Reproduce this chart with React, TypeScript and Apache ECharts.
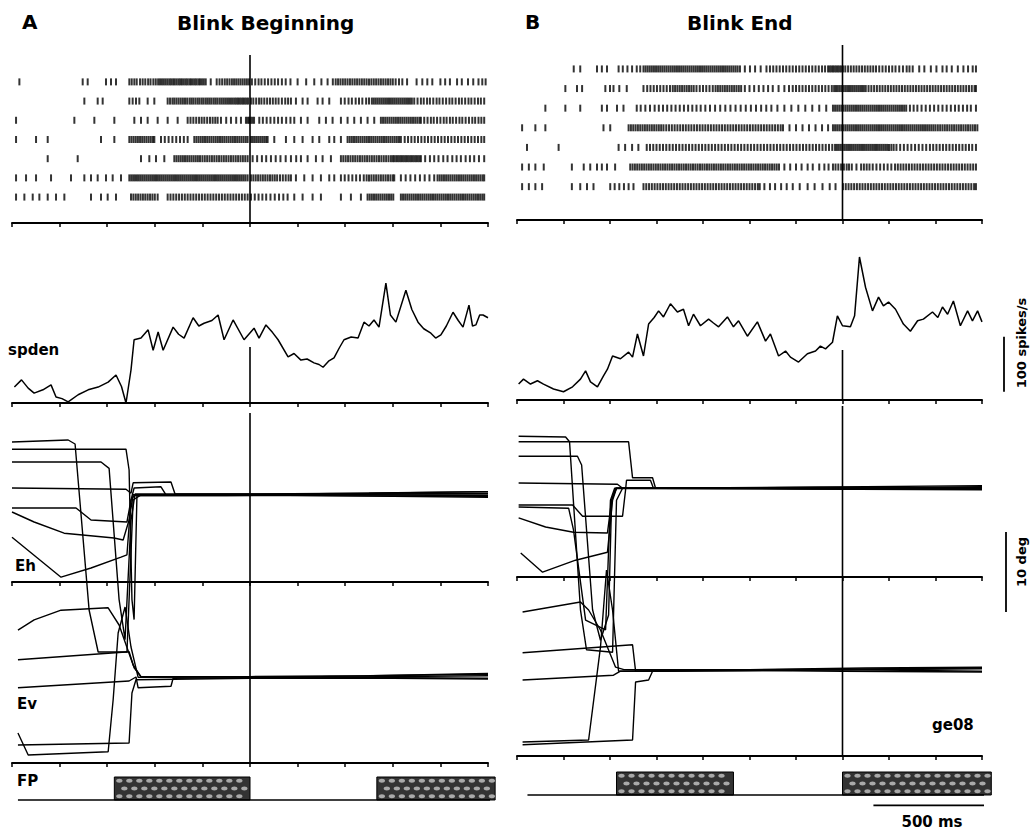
import React, { useEffect, useRef } from "react";
import * as echarts from "echarts";

// ---------- time windows (ms relative to the blink event) ----------
const TIME_A: [number, number] = [-1000, 1000];
const TIME_B: [number, number] = [-1400, 600];
const TICK_MS = 200;

// ---------- spike rasters: spike times (ms), one array per trial ----------
const rasterA: number[][] = [
  [-969,-703,-682,-605,-584,-563,-507,-497,-486,-476,-462,-451,-440,-428,-418,-406,-396,-386,-378,-370,-362,-354,-346,-338,-331,-323,-316,-308,-300,-293,-286,-278,-270,-263,-255,-248,-240,-232,-225,-217,-210,-202,-194,-186,-165,-140,-128,-117,-106,-96,-86,-76,-67,-58,-49,-40,-31,-22,-13,-4,8,22,36,48,62,76,90,104,118,134,150,170,200,236,270,300,326,348,360,370,380,390,400,410,420,430,440,450,460,470,480,490,500,510,520,530,540,550,560,570,580,590,600,612,626,640,660,700,724,745,766,800,820,840,870,890,916,938,960,976,990],
  [-696,-640,-619,-507,-493,-479,-465,-430,-402,-346,-336,-326,-318,-309,-300,-291,-282,-273,-264,-254,-246,-238,-229,-220,-212,-203,-195,-186,-178,-170,-162,-153,-145,-137,-128,-120,-112,-104,-96,-88,-80,-72,-64,-57,-50,-43,-36,-29,-22,-15,-8,4,14,26,38,48,60,72,84,96,108,120,134,148,160,172,193,221,242,284,305,333,382,398,414,428,444,458,472,488,500,512,520,528,536,544,552,560,568,576,584,592,600,608,616,624,632,640,648,656,664,672,680,690,704,718,730,744,756,770,784,796,810,824,838,850,864,878,890,904,918,930,944,958,970,984],
  [-983,-738,-654,-570,-486,-458,-430,-388,-346,-304,-262,-250,-238,-226,-214,-203,-192,-180,-168,-157,-146,-136,-122,-100,-80,-58,-38,-17,-10,-4,3,10,17,39,54,70,86,102,118,134,152,170,186,214,242,291,319,347,382,410,438,466,494,522,550,559,568,577,586,595,604,613,622,631,640,649,658,667,676,685,694,703,712,718,732,746,760,772,786,800,814,826,840,852,866,880,892,906,920,934,946,960,972,984],
  [-983,-899,-850,-626,-570,-507,-498,-489,-480,-471,-462,-453,-444,-435,-426,-417,-408,-402,-374,-358,-342,-326,-310,-294,-278,-262,-234,-225,-216,-207,-198,-189,-180,-171,-162,-153,-144,-135,-126,-117,-108,-99,-90,-81,-72,-63,-54,-45,-36,-27,-18,-10,4,12,20,28,36,44,52,60,68,74,102,151,186,221,263,291,333,354,382,410,419,428,437,446,455,464,473,482,491,500,509,518,527,536,545,554,563,572,581,590,599,608,617,626,634,650,664,678,692,706,720,734,748,762,776,790,804,818,832,846,860,874,888,902,916,930,944,958,972,984],
  [-850,-724,-458,-423,-395,-360,-318,-309,-300,-291,-282,-273,-264,-255,-246,-237,-228,-219,-210,-200,-190,-180,-170,-160,-150,-140,-130,-120,-110,-100,-90,-80,-70,-60,-50,-40,-30,-20,-10,11,30,50,68,88,108,128,150,172,194,214,242,277,305,340,382,392,402,412,422,432,442,452,462,472,482,492,502,512,522,532,542,552,562,572,582,592,600,606,614,621,628,635,642,649,656,663,670,677,684,691,698,705,712,718,736,756,774,792,812,830,850,868,886,906,924,942,962,984],
  [-983,-941,-899,-836,-752,-696,-668,-640,-605,-577,-542,-507,-499,-491,-483,-475,-467,-459,-451,-443,-435,-427,-419,-411,-403,-395,-387,-379,-371,-363,-355,-347,-339,-331,-323,-315,-307,-299,-291,-283,-275,-267,-259,-251,-243,-235,-227,-219,-211,-203,-195,-187,-179,-171,-163,-155,-147,-139,-131,-123,-115,-107,-99,-91,-83,-75,-67,-59,-51,-43,-35,-27,-19,-10,4,14,24,34,44,54,64,74,84,94,104,114,126,138,150,162,172,193,228,263,298,333,354,382,398,414,430,446,462,478,490,500,510,520,530,540,550,560,570,580,590,600,606,634,654,674,694,714,734,754,774,788,797,806,815,824,833,842,851,860,869,878,887,896,905,914,923,932,941,950,959,968,977,984],
  [-983,-948,-913,-885,-850,-815,-780,-668,-626,-598,-563,-500,-490,-480,-470,-460,-450,-440,-430,-420,-410,-400,-388,-346,-334,-322,-310,-298,-286,-274,-262,-250,-238,-226,-214,-202,-190,-178,-166,-154,-142,-130,-118,-106,-94,-82,-70,-58,-46,-34,-22,-10,4,20,36,52,68,86,104,122,140,158,186,221,263,298,382,424,466,494,503,512,521,530,539,548,557,566,575,584,593,602,634,643,652,661,670,679,688,697,706,715,724,733,742,751,760,769,778,787,796,805,814,823,832,841,850,859,868,877,886,895,904,913,922,931,940,949,958,967,976,984],
];

const rasterB: number[][] = [
  [-1156,-1128,-1056,-1035,-1013,-963,-945,-925,-905,-885,-870,-856,-847,-838,-829,-820,-811,-802,-793,-784,-775,-766,-757,-748,-739,-730,-721,-712,-703,-694,-685,-676,-667,-658,-649,-640,-631,-622,-613,-604,-595,-586,-577,-568,-559,-550,-541,-532,-523,-514,-505,-496,-487,-478,-469,-460,-451,-441,-420,-398,-376,-352,-327,-312,-298,-284,-270,-256,-242,-228,-214,-200,-186,-172,-158,-144,-130,-116,-102,-88,-75,-62,-55,-48,-41,-34,-27,-20,-13,-6,2,12,24,36,48,60,72,84,96,108,120,132,144,158,172,186,200,214,228,244,260,276,288,302,330,352,380,404,430,448,470,496,520,540,560,574],
  [-1192,-1142,-1120,-1020,-1000,-985,-960,-928,-856,-840,-826,-812,-798,-784,-770,-756,-742,-730,-720,-710,-700,-690,-680,-670,-660,-650,-640,-628,-614,-600,-586,-572,-558,-546,-536,-526,-516,-506,-496,-486,-476,-466,-456,-446,-436,-420,-400,-380,-360,-340,-320,-300,-275,-250,-230,-214,-200,-186,-172,-158,-144,-130,-116,-102,-88,-74,-60,-46,-36,-28,-20,-12,-4,4,12,20,28,36,44,52,60,68,76,84,92,100,112,124,136,148,160,172,184,196,208,220,232,244,256,268,280,292,304,316,328,340,352,364,376,388,400,412,424,436,448,460,472,484,496,508,520,532,544,556,568,574],
  [-1278,-1192,-1128,-1035,-1013,-970,-942,-885,-868,-848,-828,-808,-790,-772,-754,-736,-718,-700,-682,-664,-646,-628,-610,-590,-570,-548,-526,-504,-482,-460,-438,-416,-394,-372,-350,-328,-306,-280,-250,-220,-190,-160,-130,-100,-70,-41,-32,-23,-14,-5,4,13,22,31,40,49,58,67,76,85,94,103,112,121,130,139,148,157,166,175,184,193,202,211,220,229,238,247,256,265,274,290,306,322,340,358,376,394,412,430,448,466,484,500,518,536,552,574],
  [-1378,-1321,-1278,-1028,-999,-920,-910,-900,-890,-880,-870,-860,-850,-840,-830,-820,-810,-800,-790,-780,-770,-758,-746,-734,-722,-710,-698,-686,-674,-662,-650,-638,-626,-614,-602,-590,-578,-566,-554,-542,-530,-518,-506,-494,-482,-470,-458,-446,-434,-422,-410,-398,-386,-374,-362,-350,-338,-326,-314,-302,-290,-278,-266,-256,-228,-200,-172,-144,-116,-88,-62,-41,-32,-23,-14,-5,4,13,22,31,40,49,58,67,76,85,94,103,112,121,130,139,148,157,166,175,184,193,202,211,220,229,238,247,256,265,274,283,292,301,310,319,328,337,346,355,364,373,382,391,400,410,420,430,440,450,460,470,480,490,500,510,520,530,540,550,560,570,580],
  [-1357,-1221,-963,-935,-905,-878,-842,-828,-814,-800,-786,-772,-758,-744,-730,-716,-702,-688,-674,-660,-646,-632,-618,-604,-590,-576,-562,-548,-534,-520,-506,-492,-478,-464,-450,-436,-422,-408,-394,-380,-366,-352,-338,-324,-310,-296,-282,-268,-254,-240,-226,-212,-198,-184,-170,-156,-142,-128,-114,-100,-86,-72,-58,-44,-32,-24,-16,-8,0,8,16,24,32,40,48,56,64,72,80,88,96,104,112,120,128,136,144,152,160,168,176,184,192,200,210,220,232,248,264,280,296,312,328,344,360,376,390,404,418,432,446,460,474,488,502,516,530,544,558,574],
  [-1378,-1349,-1321,-1285,-1164,-1113,-1085,-1056,-1035,-1013,-978,-913,-903,-893,-883,-873,-863,-853,-843,-833,-823,-813,-803,-793,-783,-773,-763,-753,-743,-733,-723,-713,-703,-693,-683,-673,-663,-653,-643,-633,-623,-613,-603,-593,-583,-573,-563,-553,-543,-533,-523,-513,-503,-493,-483,-473,-463,-453,-443,-433,-423,-413,-403,-393,-383,-373,-363,-353,-343,-333,-323,-313,-303,-293,-283,-273,-250,-225,-200,-176,-150,-128,-100,-78,-60,-41,-30,-18,-6,6,18,28,40,60,80,92,104,116,130,146,162,178,194,210,226,238,250,262,274,286,298,310,322,334,346,358,370,382,394,406,418,430,442,454,466,478,490,502,514,526,538,550,562,574],
  [-1378,-1349,-1321,-1292,-1164,-1128,-1099,-1071,-999,-980,-960,-940,-920,-899,-856,-844,-832,-820,-808,-796,-784,-772,-760,-748,-736,-724,-712,-700,-688,-676,-664,-652,-640,-628,-616,-604,-592,-580,-568,-556,-544,-532,-520,-508,-496,-484,-472,-460,-448,-436,-424,-412,-400,-388,-376,-364,-356,-336,-312,-290,-264,-240,-214,-184,-150,-120,-86,-55,-30,2,14,26,38,50,62,74,86,98,110,122,134,146,158,170,182,194,206,218,230,242,254,266,278,290,302,314,326,338,350,362,374,386,398,410,422,434,446,458,470,482,494,506,518,530,542,554,566,574],
];

// ---------- spike density: [ms, spikes/s] ----------
const spdenA: [number, number][] = [
  [-990,29],[-960,42],[-932,27],[-907,18],[-870,24],[-836,33],[-815,11],[-790,8],[-764,2],[-722,15],[-680,24],[-638,29],[-596,38],[-563,51],[-540,30],[-521,0],[-500,60],[-487,115],[-458,118],[-428,133],[-407,96],[-386,129],[-365,96],[-323,138],[-300,125],[-277,118],[-239,155],[-215,140],[-193,145],[-160,150],[-134,160],[-109,115],[-71,151],[-25,115],[17,136],[38,118],[67,142],[95,128],[118,115],[160,84],[185,90],[214,78],[240,80],[269,73],[290,70],[307,65],[330,76],[353,82],[375,100],[395,115],[425,120],[454,118],[479,147],[500,140],[521,151],[542,138],[571,218],[590,160],[613,147],[655,205],[680,170],[706,147],[730,135],[760,127],[780,118],[802,124],[825,140],[853,165],[875,150],[895,138],[920,178],[935,140],[949,142],[965,160],[979,160],[1000,155],
];

const spdenB: [number, number][] = [
  [-1393,29],[-1372,38],[-1342,29],[-1312,35],[-1286,29],[-1243,20],[-1200,15],[-1161,24],[-1127,38],[-1105,53],[-1084,33],[-1054,24],[-1028,44],[-1011,56],[-989,80],[-955,75],[-920,87],[-903,78],[-882,120],[-856,80],[-834,138],[-810,150],[-791,162],[-770,151],[-740,175],[-710,160],[-684,165],[-662,135],[-641,156],[-611,135],[-576,147],[-555,140],[-533,133],[-495,151],[-469,133],[-447,144],[-409,116],[-366,142],[-331,107],[-310,120],[-275,80],[-245,89],[-224,78],[-189,69],[-151,84],[-116,89],[-95,98],[-73,93],[-43,105],[-22,153],[0,135],[34,133],[52,153],[73,260],[99,205],[129,162],[155,187],[176,171],[198,178],[228,165],[262,138],[292,125],[323,144],[348,147],[387,160],[410,150],[430,169],[452,156],[477,180],[507,135],[538,162],[559,144],[581,162],[600,142],
];

// ---------- eye position traces: [ms, deg] per trial ----------
const ehA: [number, number][][] = [
  [[-1000,17.5],[-764,17.75],[-735,17.25],[-676,-3.5],[-638,-8.75],[-517,-8.75],[-491,10.25],[-458,10.9],[-200,10.9],[300,10.8],[1000,10.6]],
  [[-1000,16.6],[-521,16.6],[-508,14],[-496,-2.2],[-487,-4.7],[-475,10.8],[-100,10.8],[400,11.0],[1000,11.0]],
  [[-1000,15],[-626,15],[-592,14.2],[-550,-2.2],[-525,-7.2],[-500,7.7],[-483,11.0],[0,11.0],[500,11.1],[1000,11.3]],
  [[-1000,11.75],[-521,11.6],[-500,11.1],[-491,12.4],[-332,12.5],[-315,11.0],[200,11.0],[700,11.2],[1000,11.3]],
  [[-1000,9.25],[-731,9.25],[-668,7.75],[-517,7.5],[-500,10.25],[-487,11.75],[-374,11.9],[-353,10.9],[300,10.9],[1000,10.8]],
  [[-1000,8.75],[-907,7.5],[-781,6.1],[-571,5.5],[-533,5.25],[-508,7.75],[-491,10.9],[100,10.9],[600,11.0],[1000,11.1]],
  [[-1000,5.6],[-794,0.6],[-668,1.75],[-542,3.1],[-517,3.4],[-500,10.25],[-487,10.8],[200,10.8],[1000,10.7]],
];

const evA: [number, number][][] = [
  [[-975,16.6],[-907,17.9],[-794,19.1],[-596,19.4],[-550,17.25],[-491,12.25],[-458,10.75],[0,10.8],[500,10.9],[1000,11.1]],
  [[-975,12.9],[-508,13.9],[-487,11.9],[-458,10.8],[-100,10.8],[400,10.7],[1000,10.6]],
  [[-975,9.4],[-508,10.25],[-479,10.75],[-470,9.4],[-332,9.6],[-323,10.6],[200,10.7],[1000,10.9]],
  [[-975,3.75],[-932,1.0],[-596,1.4],[-575,7.9],[-554,16.25],[-525,19.5],[-500,14.5],[-470,10.7],[300,10.8],[1000,11.2]],
  [[-975,2.25],[-508,2.5],[-496,8.75],[-479,10.4],[0,10.6],[600,10.6],[1000,10.5]],
];

const ehB: [number, number][][] = [
  [[-1393,17.6],[-1191,17.5],[-1174,16.9],[-1127,-4.1],[-1101,-9.1],[-989,-9.4],[-972,9.6],[-946,11.1],[-300,11.1],[600,11.2]],
  [[-1393,16.9],[-920,16.9],[-903,12.4],[-817,12.4],[-804,11.1],[0,11.0],[600,11.3]],
  [[-1393,15.1],[-1140,15.1],[-1122,14],[-1075,-4.1],[-1041,-7.9],[-1006,-4.75],[-993,9.6],[-972,11.1],[200,11.2],[600,11.0]],
  [[-1393,11.75],[-968,11.6],[-946,11.1],[-200,11.0],[600,10.9]],
  [[-1393,9],[-1161,9],[-1118,7.6],[-946,7.6],[-933,10.9],[-929,12.1],[-826,12.1],[-813,11.1],[100,11.3],[600,11.4]],
  [[-1393,8.75],[-1178,8.6],[-1157,5.9],[-1105,-5.4],[-1019,-6.6],[-998,9.6],[-980,11.1],[-100,11.2],[600,11.1]],
  [[-1393,7.4],[-1277,6.25],[-1157,5.6],[-1011,5.5],[-993,9.6],[-976,11.1],[300,11.0],[600,11.2]],
  [[-1384,3],[-1290,0.6],[-1148,2.1],[-1011,3.1],[-989,9.6],[-972,11.1],[0,11.1],[600,11.0]],
];

const evB: [number, number][][] = [
  [[-1376,18],[-1127,19.25],[-1092,18.25],[-1041,15.75],[-976,11.1],[-940,10.8],[-300,10.8],[200,10.9],[600,11.0]],
  [[-1376,12.9],[-903,13.9],[-890,10.6],[-500,10.7],[0,10.6],[600,10.5]],
  [[-1376,9.5],[-985,10.1],[-955,10.6],[-400,10.8],[100,11.0],[600,11.1]],
  [[-1376,1.75],[-1092,2],[-1041,13.6],[-1015,23.25],[-989,18.25],[-963,10.6],[-200,10.7],[600,10.9]],
  [[-1376,1.4],[-903,2],[-890,9.25],[-834,9.5],[-817,10.6],[0,10.8],[600,10.6]],
];

// ---------- fixation point: on-periods (ms) and trace extent ----------
const fpOnA: [number, number][] = [[-570, 0], [533, 1030]];
const fpOnB: [number, number][] = [[-972, -469], [0, 640]];
const fpSpanA: [number, number] = [-975, 1030];
const fpSpanB: [number, number] = [-1355, 640];

// ---------- calibration bars ----------
const SCALE_RATE = 100; // spikes/s
const SCALE_DEG = 10; // deg
const SCALE_MS = 500; // ms

// ---------- layout ----------
const FONT = "DejaVu Sans";
const PX_PER_DEG = 8;
const EYE_HEIGHT = 350;
const EYE_RANGE = EYE_HEIGHT / PX_PER_DEG;
const RATE_MAX = 300;
const SPDEN_HEIGHT = 165;

type Panel = {
  left: number;
  width: number;
  time: [number, number];
  raster: number[][];
  rasterTop: number;
  rasterHeight: number;
  rowMin: number;
  rowMax: number;
  spden: [number, number][];
  spdenTop: number;
  spdenMarkFrom: number;
  eyeTop: number;
  ehZeroFromBottom: number;
  eh: [number, number][][];
  ev: [number, number][][];
  fpTop: number;
  fpOn: [number, number][];
  fpSpan: [number, number];
};

const panels: Panel[] = [
  {
    left: 12, width: 476, time: TIME_A,
    raster: rasterA, rasterTop: 55, rasterHeight: 168, rowMin: -0.4, rowMax: 8.35,
    spden: spdenA, spdenTop: 238, spdenMarkFrom: 102,
    eyeTop: 413, ehZeroFromBottom: 181, eh: ehA, ev: evA,
    fpTop: 777, fpOn: fpOnA, fpSpan: fpSpanA,
  },
  {
    left: 517, width: 465, time: TIME_B,
    raster: rasterB, rasterTop: 45, rasterHeight: 175, rowMin: -0.22, rowMax: 8.7,
    spden: spdenB, spdenTop: 235, spdenMarkFrom: 91,
    eyeTop: 406, ehZeroFromBottom: 179, eh: ehB, ev: evB,
    fpTop: 772, fpOn: fpOnB, fpSpan: fpSpanB,
  },
];

const INK = "#000";

function timeAxis(gridIndex: number, time: [number, number], show: boolean, extra: any = {}) {
  return {
    type: "value",
    gridIndex,
    min: time[0],
    max: time[1],
    interval: TICK_MS,
    position: "bottom",
    axisLine: { show, onZero: false, lineStyle: { color: INK, width: 2 } },
    axisTick: { show, length: 4, lineStyle: { color: INK, width: 1.5 } },
    axisLabel: { show: false },
    splitLine: { show: false },
    ...extra,
  };
}

function hiddenX(gridIndex: number) {
  return { type: "value", gridIndex, min: -1, max: 1, show: false, splitLine: { show: false } };
}

function hiddenY(gridIndex: number, min: number, max: number, extra: any = {}) {
  return {
    type: "value",
    gridIndex,
    min,
    max,
    show: false,
    splitLine: { show: false },
    ...extra,
  };
}

function buildOption() {
  const grid: any[] = [];
  const xAxis: any[] = [];
  const yAxis: any[] = [];
  const series: any[] = [];

  const lineSeries = (xi: number, yi: number, data: any[], width = 1.2, extra: any = {}) => ({
    type: "line",
    xAxisIndex: xi,
    yAxisIndex: yi,
    data,
    symbol: "none",
    silent: true,
    lineStyle: { color: INK, width },
    ...extra,
  });

  panels.forEach((p) => {
    // spike raster
    const gR = grid.length;
    grid.push({ left: p.left, width: p.width, top: p.rasterTop, height: p.rasterHeight });
    const xR = xAxis.length;
    xAxis.push(timeAxis(gR, p.time, true));
    const yR = yAxis.length;
    yAxis.push(hiddenY(gR, p.rowMin, p.rowMax, { inverse: true }));
    series.push({
      type: "scatter",
      xAxisIndex: xR,
      yAxisIndex: yR,
      symbol: "rect",
      symbolSize: [2, 7],
      silent: true,
      itemStyle: { color: INK },
      data: p.raster.flatMap((trial, i) => trial.map((t) => [t, i + 1])),
    });
    series.push(lineSeries(xR, yR, [[0, p.rowMin], [0, p.rowMax]], 1.6));

    // spike density
    const gS = grid.length;
    grid.push({ left: p.left, width: p.width, top: p.spdenTop, height: SPDEN_HEIGHT });
    const xS = xAxis.length;
    xAxis.push(timeAxis(gS, p.time, true));
    const yS = yAxis.length;
    yAxis.push(hiddenY(gS, 0, RATE_MAX));
    series.push(lineSeries(xS, yS, p.spden, 1.5));
    series.push(lineSeries(xS, yS, [[0, p.spdenMarkFrom], [0, 0]], 1.6));

    // eye position (Ev axis at the bottom, Eh axis through its own zero)
    const gE = grid.length;
    grid.push({ left: p.left, width: p.width, top: p.eyeTop, height: EYE_HEIGHT });
    const yEv = yAxis.length;
    yAxis.push(hiddenY(gE, 0, EYE_RANGE));
    const ehMin = -p.ehZeroFromBottom / PX_PER_DEG;
    const yEh = yAxis.length;
    yAxis.push(hiddenY(gE, ehMin, ehMin + EYE_RANGE));
    const xEv = xAxis.length;
    xAxis.push(timeAxis(gE, p.time, true));
    xAxis.push(
      timeAxis(gE, p.time, true, {
        axisLine: { show: true, onZero: true, onZeroAxisIndex: yEh, lineStyle: { color: INK, width: 2 } },
      })
    );
    p.eh.forEach((tr) => series.push(lineSeries(xEv, yEh, tr, 1.4)));
    p.ev.forEach((tr) => series.push(lineSeries(xEv, yEv, tr, 1.4)));
    series.push(lineSeries(xEv, yEv, [[0, 0], [0, EYE_RANGE]], 1.6));

    // fixation point
    const gF = grid.length;
    grid.push({ left: p.left, width: p.width, top: p.fpTop, height: 23 });
    const xF = xAxis.length;
    xAxis.push(timeAxis(gF, p.time, false));
    const yF = yAxis.length;
    yAxis.push(hiddenY(gF, 0, 1));
    series.push(lineSeries(xF, yF, [[p.fpSpan[0], 0], [p.fpSpan[1], 0]], 1.5, { clip: false }));
    series.push({
      type: "custom",
      xAxisIndex: xF,
      yAxisIndex: yF,
      silent: true,
      clip: false,
      data: p.fpOn,
      renderItem: (_params: any, api: any) => {
        const a = api.coord([api.value(0), 1]);
        const b = api.coord([api.value(1), 0]);
        const x = a[0];
        const y = a[1];
        const w = b[0] - a[0];
        const h = b[1] - a[1];
        const children: any[] = [
          { type: "rect", shape: { x, y, width: w, height: h }, style: { fill: "#333", stroke: INK, lineWidth: 1 } },
        ];
        for (let r = 0; r < 3; r++) {
          const cy = y + (h * (r + 0.5)) / 3;
          for (let cx = x + 5 + (r % 2) * 5; cx < x + w - 3; cx += 10) {
            children.push({ type: "ellipse", shape: { cx, cy, rx: 3.2, ry: 2 }, style: { fill: "#a9a9a9" } });
          }
        }
        return { type: "group", children };
      },
    });

    // 500 ms calibration bar under panel B's fixation trace
    if (p === panels[1]) {
      series.push(lineSeries(xF, yF, [[133, -0.45], [133 + SCALE_MS, -0.45]], 1.8, { clip: false }));
    }
  });

  // vertical calibration bars: narrow grids sharing the rate and eye scales of panel B
  const pB = panels[1];
  const gRate = grid.length;
  grid.push({ left: 1000, width: 8, top: pB.spdenTop, height: SPDEN_HEIGHT });
  const xRate = xAxis.length;
  xAxis.push(hiddenX(gRate));
  const yRate = yAxis.length;
  yAxis.push(hiddenY(gRate, 0, RATE_MAX));
  series.push(lineSeries(xRate, yRate, [[0, 15], [0, 15 + SCALE_RATE]], 1.8));

  const gDeg = grid.length;
  grid.push({ left: 1002, width: 8, top: pB.eyeTop, height: EYE_HEIGHT });
  const xDeg = xAxis.length;
  xAxis.push(hiddenX(gDeg));
  const yDeg = yAxis.length;
  yAxis.push(hiddenY(gDeg, 0, EYE_RANGE));
  series.push(lineSeries(xDeg, yDeg, [[0, 18], [0, 18 + SCALE_DEG]], 1.8));

  const text = (t: string, x: number, y: number, size: number, align = "left", rotation = 0) => ({
    type: "text",
    x,
    y,
    rotation,
    silent: true,
    style: {
      text: t,
      fill: INK,
      font: `bold ${size}px "${FONT}"`,
      textAlign: align,
      textVerticalAlign: "middle",
    },
  });

  const graphic = [
    text("A", 22, 22, 20),
    text("Blink Beginning", 177, 23, 20),
    text("B", 525, 22, 20),
    text("Blink End", 687, 23, 20),
    text("spden", 8, 350, 15),
    text("Eh", 15, 566, 15),
    text("Ev", 17, 704, 15),
    text("FP", 17, 781, 15),
    text("ge08", 932, 725, 15),
    text("500 ms", 932, 822, 15, "center"),
    text("100 spikes/s", 1021, 343, 13, "center", Math.PI / 2),
    text("10 deg", 1021, 562, 13, "center", Math.PI / 2),
  ];

  return { animation: false, backgroundColor: "#fff", grid, xAxis, yAxis, series, graphic };
}

export default function App() {
  const ref = useRef<HTMLDivElement>(null);
  useEffect(() => {
    if (!ref.current) return;
    const chart = echarts.init(ref.current, undefined, { renderer: "svg" });
    chart.setOption(buildOption());
    return () => chart.dispose();
  }, []);
  return (
    <div
      ref={ref}
      style={{ position: "absolute", left: 0, top: 0, width: 1032, height: 831, background: "#fff" }}
    />
  );
}
